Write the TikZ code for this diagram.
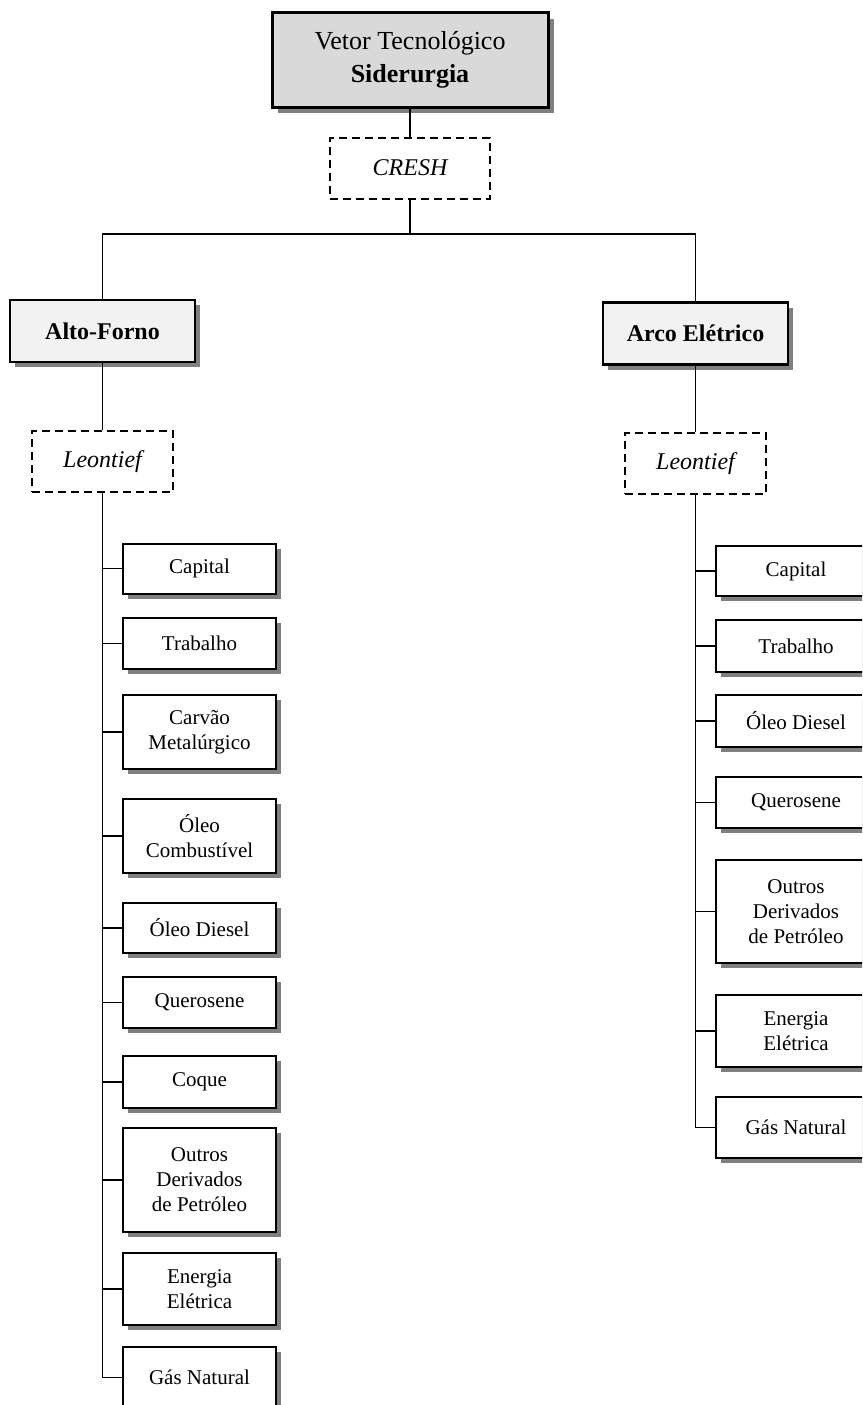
\documentclass[tikz,border=0pt]{standalone}
\usepackage{fontspec}
\setmainfont{Liberation Serif}
\usetikzlibrary{shadows}

\newcommand{\leaffont}{\fontsize{21}{25}\selectfont}
\newcommand{\midfont}{\fontsize{24}{28}\selectfont}
\newcommand{\topfont}{\fontsize{26}{33}\selectfont}

\tikzset{
  boxshadow/.style={drop shadow={shadow xshift=#1,shadow yshift=-#1,fill=black!50,opacity=1}},
  rootbox/.style={draw, line width=3pt, fill=black!15, minimum width=276pt, minimum height=94pt,
    inner sep=0pt, align=center, font=\topfont, boxshadow=6pt},
  procbox/.style={draw, line width=2.6pt, fill=black!5, minimum width=185pt, minimum height=62pt,
    inner sep=0pt, align=center, font=\midfont\bfseries, boxshadow=5pt},
  funcbox/.style={draw, line width=2pt, dash pattern=on 8pt off 5pt, fill=white,
    minimum height=61pt, inner sep=0pt, align=center, font=\midfont\itshape},
  leaf/.style={draw, line width=2pt, fill=white, minimum width=153pt, minimum height=#1,
    inner sep=0pt, align=center, font=\leaffont, boxshadow=5pt},
  leaf/.default=51pt,
  rleaf/.style={leaf=#1, minimum width=160pt},
  link/.style={line width=1.4pt},
}

\begin{document}
\begin{tikzpicture}[x=1pt,y=-1pt]
\useasboundingbox (0,0) rectangle (862,1405);
\clip (0,0) rectangle (862,1405);

% top of the tree
\node[rootbox] (root) at (410,60) {Vetor Tecnológico\\\textbf{Siderurgia}};
\node[funcbox, minimum width=160pt] (cresh) at (410,168) {CRESH};
\coordinate (bus) at (410,234);

% the two production routes
\node[procbox] (alto) at (102.5,331) {Alto-Forno};
\node[procbox] (arco) at (695.5,333.5) {Arco Elétrico};
\node[funcbox, minimum width=141pt] (leonL) at (102.5,461.5) {Leontief};
\node[funcbox, minimum width=141pt] (leonR) at (695.5,463.5) {Leontief};

\draw[link] (root.south) -- (cresh.north);
\draw[link] (cresh.south) -- (bus);
\draw[link] (alto.north) |- (bus) -| (arco.north);
\draw[link] (alto.south) -- (leonL.north);
\draw[link] (arco.south) -- (leonR.north);

% inputs of the blast furnace route
\node[leaf=50pt]  (l1)  at (199.5,568.5) {Capital};
\node[leaf=51pt]  (l2)  at (199.5,643.5) {Trabalho};
\node[leaf=74pt]  (l3)  at (199.5,732)   {Carvão\\Metalúrgico};
\node[leaf=74pt]  (l4)  at (199.5,836)   {Óleo\\Combustível};
\node[leaf=50pt]  (l5)  at (199.5,928)   {Óleo Diesel};
\node[leaf=51pt]  (l6)  at (199.5,1002.5){Querosene};
\node[leaf=52pt]  (l7)  at (199.5,1082)  {Coque};
\node[leaf=104pt] (l8)  at (199.5,1180)  {Outros\\Derivados\\de Petróleo};
\node[leaf=72pt]  (l9)  at (199.5,1289)  {Energia\\Elétrica};
\node[leaf=61pt]  (l10) at (199.5,1377.5){Gás Natural};

% inputs of the electric arc route
\node[rleaf=50pt]  (r1) at (796,571)    {Capital};
\node[rleaf=52pt]  (r2) at (796,646)    {Trabalho};
\node[rleaf=52pt]  (r3) at (796,721)    {Óleo Diesel};
\node[rleaf=51pt]  (r4) at (796,802.5)  {Querosene};
\node[rleaf=103pt] (r5) at (796,911.5)  {Outros\\Derivados\\de Petróleo};
\node[rleaf=72pt]  (r6) at (796,1031)   {Energia\\Elétrica};
\node[rleaf=61pt]  (r7) at (796,1127.5) {Gás Natural};

% spines with their branches
\draw[link] (leonL.south) |- (l10.west);
\foreach \n in {l1,l2,l3,l4,l5,l6,l7,l8,l9}
  \draw[link] (leonL.south |- \n.west) -- (\n.west);
\draw[link] (leonR.south) |- (r7.west);
\foreach \n in {r1,r2,r3,r4,r5,r6}
  \draw[link] (leonR.south |- \n.west) -- (\n.west);
\end{tikzpicture}
\end{document}
